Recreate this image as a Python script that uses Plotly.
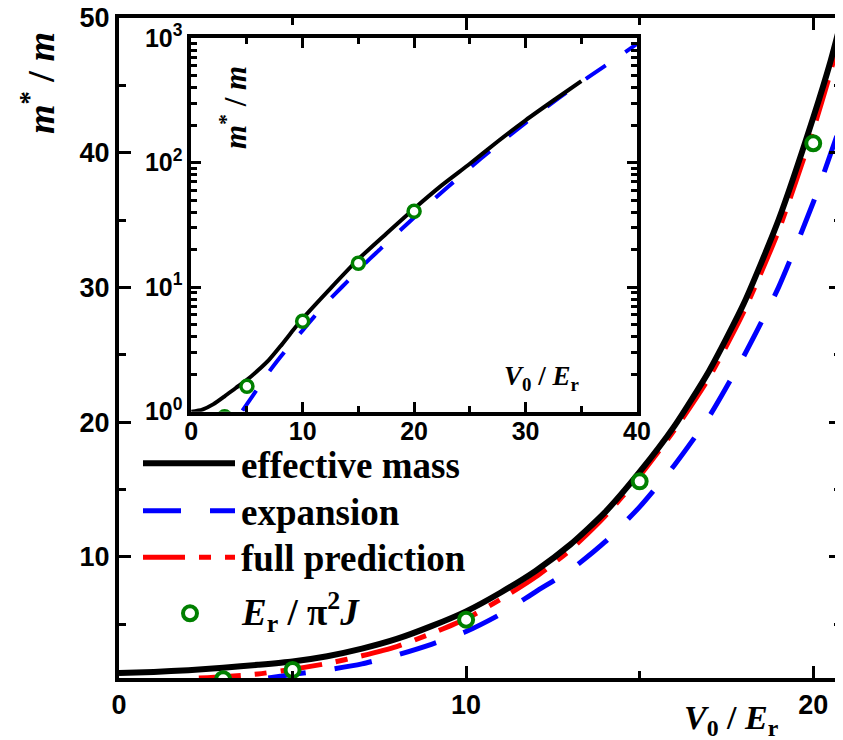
import plotly.graph_objects as go

# ---------------- data ----------------
# main panel: m*/m versus V0/Er
black_v = [0, 1, 2, 3, 4, 5, 6, 7, 8, 9, 10, 11, 12, 13, 14, 15, 16, 17, 18, 19, 20, 20.5, 20.85]
black_m = [1.37, 1.45, 1.58, 1.76, 1.98, 2.23, 2.62, 3.18, 3.9, 4.85, 5.95, 7.35, 8.95, 10.9, 13.3,
           16.3, 19.7, 23.8, 28.8, 35.0, 42.6, 46.8, 50.2]

red_v = [2.3, 3, 4, 5, 6, 7, 8, 9, 10, 11, 12, 13, 14, 15, 16, 17, 18, 19, 20, 20.5, 20.85]
red_m = [1.0, 1.1, 1.3, 1.65, 2.08, 2.65, 3.33, 4.3, 5.4, 6.85, 8.5, 10.5, 13.0, 16.0, 19.4, 23.3,
         28.2, 34.2, 41.7, 46.0, 49.6]

blue_v = [4.3, 5, 6, 7, 8, 9, 10, 11, 12, 13, 14, 15, 16, 17, 18, 19, 20, 20.85]
blue_m = [1.0, 1.27, 1.6, 2.05, 2.7, 3.5, 4.45, 5.75, 7.4, 9.0, 11.1, 13.7, 16.8, 20.4, 24.9, 30.0,
          36.3, 42.5]

green_v = [3, 5, 10, 15, 20]
green_m = [0.91, 1.6, 5.33, 15.6, 40.7]

# inset: log scale
inset_black_v = [0, 1, 2, 3, 4, 5, 6, 7, 8, 9, 10, 12.5, 15, 17.5, 20, 22.5, 25, 27.5, 30, 32.5, 35]
inset_black_m = [1.0, 1.04, 1.15, 1.33, 1.55, 1.80, 2.15, 2.62, 3.35, 4.35, 5.6, 9.8, 16.8, 26.9,
                 42.7, 66, 98, 148, 219, 316, 452]

inset_blue_v = [4.6, 5, 6, 7, 8, 9, 10, 11, 12, 13, 14, 15, 16, 17, 18, 19, 20, 22, 24, 26, 28, 30,
                32, 34, 36, 38, 40]
inset_blue_m = [1.02, 1.15, 1.55, 2.1, 2.75, 3.55, 4.5, 5.75, 7.3, 9.0, 11.1, 13.7, 16.8, 20.4, 24.9,
                30.0, 36.3, 53, 76, 108, 151, 209, 285, 385, 513, 676, 900]

main_x_ticks = [0, 10, 20]
main_x_minor = [5, 15]
main_y_ticks = [10, 20, 30, 40, 50]
main_y_minor = [5, 15, 25, 35, 45]
inset_x_ticks = [0, 10, 20, 30, 40]
inset_x_minor = [5, 15, 25, 35]
inset_y_ticks = [1, 10, 100, 1000]
inset_y_labels = ["10<sup>0</sup>", "10<sup>1</sup>", "10<sup>2</sup>", "10<sup>3</sup>"]
inset_y_minor = [k * 10 ** d for d in range(3) for k in range(2, 10)]

legend_labels = ["effective mass", "expansion", "full prediction",
                 "<i>E</i><sub>r</sub> / π<sup>2</sup><i>J</i>"]

# ---------------- layout geometry ----------------
# The page body has an 8 px margin, so the figure starts 8 px right of / below the window corner.
OFF = 8
SCREEN_W, SCREEN_H = 843, 740
W, H = SCREEN_W - OFF, SCREEN_H - OFF
PLOT_L, PLOT_R, PLOT_T, PLOT_B = 119, 841, 18, 678     # screen pixels of plot area
ML, MT = PLOT_L - OFF, PLOT_T - OFF
MR, MB = W - (PLOT_R - OFF), H - (PLOT_B - OFF)
PW, PH = PLOT_R - PLOT_L, PLOT_B - PLOT_T


def px_x(px):
    """screen x pixel -> paper coordinate"""
    return (px - PLOT_L) / PW


def px_y(py):
    """screen y pixel -> paper coordinate"""
    return (PLOT_B - py) / PH


BLUE_DASH = "38px,29px"
RED_DASH = "42px,14px,12px,14px"
GREEN = "#008000"

fig = go.Figure()

# main panel traces
fig.add_trace(go.Scatter(x=blue_v, y=blue_m, mode="lines", name="expansion",
                         line=dict(color="#0000FF", width=5, dash=BLUE_DASH, shape="spline",
                                   smoothing=0.6),
                         xaxis="x", yaxis="y", showlegend=False))
fig.add_trace(go.Scatter(x=red_v, y=red_m, mode="lines", name="full prediction",
                         line=dict(color="#FF0000", width=5, dash=RED_DASH, shape="spline",
                                   smoothing=0.6),
                         xaxis="x", yaxis="y", showlegend=False))
fig.add_trace(go.Scatter(x=black_v, y=black_m, mode="lines", name="effective mass",
                         line=dict(color="black", width=6, shape="spline", smoothing=0.6),
                         xaxis="x", yaxis="y", showlegend=False))
fig.add_trace(go.Scatter(x=green_v, y=green_m, mode="markers", name="Er/pi^2 J",
                         marker=dict(symbol="circle", size=14, color="white",
                                     line=dict(color=GREEN, width=4)),
                         xaxis="x", yaxis="y", showlegend=False))

# inset traces
fig.add_trace(go.Scatter(x=inset_blue_v, y=inset_blue_m, mode="lines",
                         line=dict(color="#0000FF", width=4, dash="24px,24px", shape="spline",
                                   smoothing=0.6),
                         xaxis="x2", yaxis="y2", showlegend=False))
fig.add_trace(go.Scatter(x=inset_black_v, y=inset_black_m, mode="lines",
                         line=dict(color="black", width=4, shape="spline", smoothing=0.6),
                         xaxis="x2", yaxis="y2", showlegend=False))
fig.add_trace(go.Scatter(x=green_v, y=green_m, mode="markers",
                         marker=dict(symbol="circle", size=12, color="white",
                                     line=dict(color=GREEN, width=3.5)),
                         xaxis="x2", yaxis="y2", showlegend=False))

tick_font = dict(family="Liberation Sans", size=27, color="black", weight="bold")
inset_tick_font = dict(family="Liberation Sans", size=25, color="black", weight="bold")

common = dict(showline=True, linecolor="black", mirror="ticks", ticks="inside",
              tickcolor="black", showgrid=False, zeroline=False, automargin=False,
              ticklabeloverflow="allow")

fig.update_layout(
    width=W, height=H,
    margin=dict(l=ML, r=MR, t=MT, b=MB, autoexpand=False),
    paper_bgcolor="white", plot_bgcolor="white",
    xaxis=dict(domain=[0, 1], range=[0, 20.8], anchor="y", linewidth=4,
               tickmode="array", tickvals=main_x_ticks, ticklen=12, tickwidth=3,
               minor=dict(tickmode="array", tickvals=main_x_minor, ticklen=7, tickwidth=3,
                          ticks="inside", tickcolor="black"),
               tickfont=tick_font, **common),
    yaxis=dict(domain=[0, 1], range=[1, 50], anchor="x", linewidth=4,
               tickmode="array", tickvals=main_y_ticks, ticklen=12, tickwidth=3,
               minor=dict(tickmode="array", tickvals=main_y_minor, ticklen=7, tickwidth=3,
                          ticks="inside", tickcolor="black"),
               tickfont=tick_font, **common),
    xaxis2=dict(domain=[px_x(191.2), px_x(637)], range=[0, 40], anchor="y2", linewidth=3.5,
                tickmode="array", tickvals=inset_x_ticks, ticklen=10, tickwidth=3,
                ticklabelstandoff=-5,
                minor=dict(tickmode="array", tickvals=inset_x_minor, ticklen=6, tickwidth=3,
                           ticks="inside", tickcolor="black"),
                tickfont=inset_tick_font, **common),
    yaxis2=dict(domain=[px_y(411.7), px_y(38.2)], type="log", range=[0, 3], anchor="x2",
                linewidth=3.5, tickmode="array", tickvals=inset_y_ticks, ticktext=inset_y_labels,
                ticklen=10, tickwidth=3,
                minor=dict(tickmode="array", tickvals=inset_y_minor, ticklen=6, tickwidth=3,
                           ticks="inside", tickcolor="black"),
                tickfont=inset_tick_font, **common),
)

serif_bold = dict(family="Liberation Serif", color="black", weight="bold")

annotations = [
    dict(text="<i>m</i><sup>*</sup> / <i>m</i>", x=px_x(38), y=px_y(83), textangle=-90,
         font=dict(size=38, **serif_bold)),
    dict(text="<i>V</i><sub>0</sub> / <i>E</i><sub>r</sub>", x=px_x(731), y=px_y(720),
         font=dict(size=34, **serif_bold)),
    dict(text="<i>m</i><sup>*</sup> / <i>m</i>", x=px_x(233), y=px_y(108), textangle=-90,
         font=dict(size=31, **serif_bold)),
    dict(text="<i>V</i><sub>0</sub> / <i>E</i><sub>r</sub>", x=px_x(541), y=px_y(378),
         font=dict(size=27, **serif_bold)),
]
legend_rows = [466, 512, 558, 612]
for lab, row in zip(legend_labels, legend_rows):
    annotations.append(dict(text=lab, x=px_x(239), y=px_y(row), xanchor="left",
                            font=dict(size=37, **serif_bold)))
for a in annotations:
    a.setdefault("xanchor", "center")
    a.update(xref="paper", yref="paper", yanchor="middle", showarrow=False)
fig.update_layout(annotations=annotations)

# legend glyphs (drawn in pixel-derived paper coordinates)
shapes = []
line_rows = [(463.3, dict(color="black", width=6)),
             (510.7, dict(color="#0000FF", width=5, dash=BLUE_DASH)),
             (557.3, dict(color="#FF0000", width=5, dash=RED_DASH))]
for row, ln in line_rows:
    shapes.append(dict(type="line", xref="paper", yref="paper",
                       x0=px_x(143), x1=px_x(235), y0=px_y(row), y1=px_y(row), line=ln))
shapes.append(dict(type="circle", xref="paper", yref="paper",
                   x0=px_x(183), x1=px_x(197), y0=px_y(620.3), y1=px_y(606.3),
                   fillcolor="white", line=dict(color=GREEN, width=4)))
fig.update_layout(shapes=shapes)

fig.write_html("out.html")
